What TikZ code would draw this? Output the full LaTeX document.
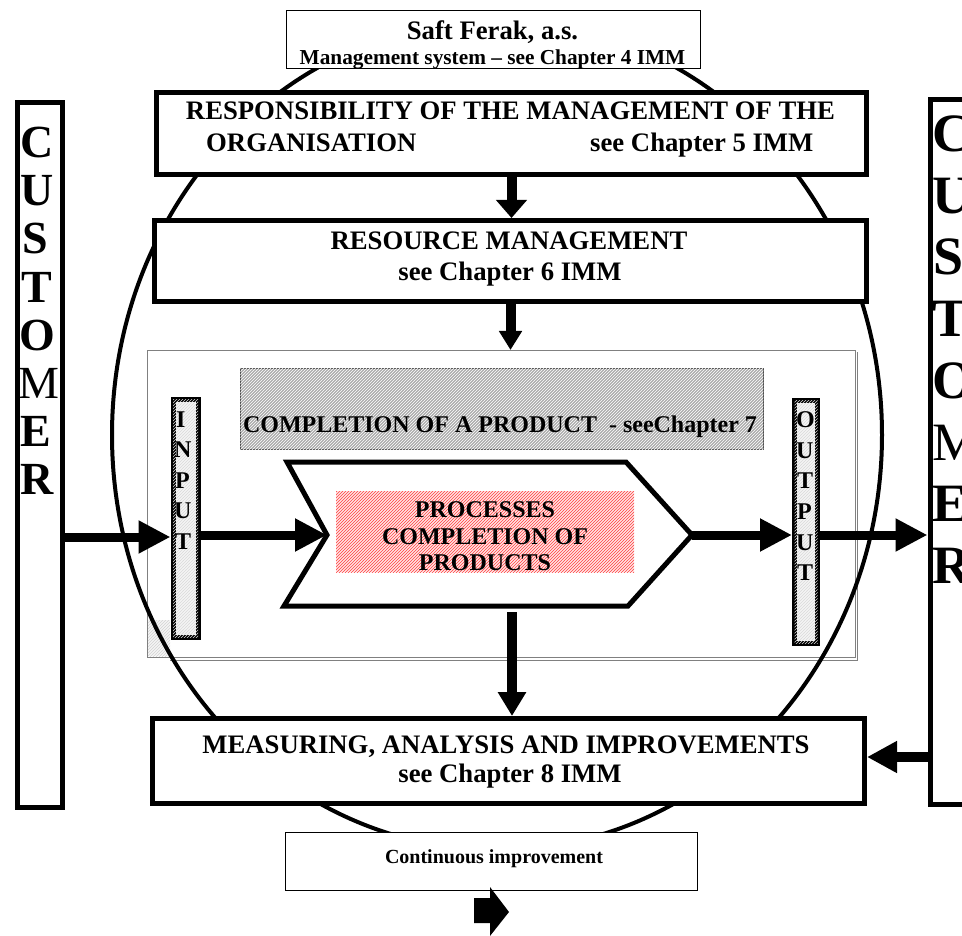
\documentclass[tikz,border=0pt]{standalone}
\usepackage{fontspec}
\setmainfont{Liberation Serif}
\usetikzlibrary{arrows.meta,patterns}
\begin{document}
\begin{tikzpicture}[x=1pt,y=-1pt,
  thickbox/.style={draw,line width=5pt,fill=white,inner sep=0pt,anchor=north west},
  thinbox/.style={draw,line width=0.9pt,fill=white,inner sep=0pt,anchor=north west},
  big/.style={font=\fontsize{26.7}{30}\selectfont\bfseries,inner sep=0pt,anchor=base},
  mid/.style={font=\fontsize{24}{28}\selectfont\bfseries,inner sep=0pt,anchor=base},
  small/.style={font=\fontsize{21.3}{24}\selectfont\bfseries,inner sep=0pt,anchor=base},
  tiny/.style={font=\fontsize{20}{24}\selectfont\bfseries,inner sep=0pt,anchor=base},
  letter/.style={font=\fontsize{24}{28}\selectfont\bfseries,inner sep=0pt,anchor=base west},
  custl/.style={font=\fontsize{46}{50}\selectfont\bfseries,inner sep=0pt,anchor=base west},
  custr/.style={font=\fontsize{54}{60}\selectfont\bfseries,inner sep=0pt,anchor=base west},
  flow/.style={line width=9pt,-{Triangle[length=32pt,width=31pt]}},
  down/.style={line width=10pt,-{Triangle[length=18pt,width=30pt]}},
  downs/.style={line width=10pt,-{Triangle[length=19pt,width=22pt]}},
  iobox/.style={draw,line width=5pt,fill=gray!8,postaction={pattern=north east lines,pattern color=gray!30},
      inner sep=0pt,anchor=north west},
]
\clip (0,0) rectangle (962,936);
% frame of product completion
\node[draw=gray,line width=0.8pt,fill=white,inner sep=0pt,anchor=north west,
      minimum width=708pt,minimum height=307pt] (frame) at (147,350) {};
\fill[gray!8,postaction={pattern=north east lines,pattern color=gray!35}] (148,620) rectangle (170,656);
\draw[gray,line width=0.8pt] (170,660) -- (857,660) -- (857,352);
% completion of a product banner
\node[draw=black!70,line width=0.8pt,fill=gray!65,postaction={pattern=north east lines,pattern color=white},
      inner sep=0pt,anchor=north west,minimum width=523pt,minimum height=81pt] (comp) at (240,368) {};
% input / output
\node[iobox,minimum width=25pt,minimum height=238pt] (input) at (170.5,397) {};
\node[iobox,minimum width=23pt,minimum height=243pt] (output) at (792,398) {};
% chevron
\coordinate (ctl) at (287,462);
\coordinate (ctr) at (626,462);
\coordinate (tip) at (692,535);
\coordinate (cbr) at (628,606);
\coordinate (cbl) at (284,606);
\coordinate (notch) at (327,535);
\draw[line width=5pt,fill=white,line join=miter] (ctl) -- (ctr) -- (tip) -- (cbr) -- (cbl) -- (notch) -- cycle;
\node[fill=red!10,postaction={pattern=north east lines,pattern color=red!75},
      inner sep=0pt,anchor=north west,minimum width=298pt,minimum height=81pt] (proc) at (336,491) {};
% ellipse
\draw[line width=4pt] (497,435) ellipse [x radius=385pt, y radius=415pt];
% boxes
\node[thinbox,minimum width=414pt,minimum height=58pt] (saft) at (286,10) {};
\node[thickbox,minimum width=710pt,minimum height=82pt] (resp) at (154,90) {};
\node[thickbox,minimum width=712pt,minimum height=81pt] (res) at (152,218) {};
\node[thickbox,minimum width=712pt,minimum height=85pt] (meas) at (150,716) {};
\node[thinbox,minimum width=412pt,minimum height=58pt] (cont) at (285,832) {};
\node[thickbox,minimum width=45pt,minimum height=705pt] (custL) at (14.5,100) {};
\node[thickbox,minimum width=70pt,minimum height=705pt] (custR) at (927.5,97) {};
% connectors
\coordinate (yin) at (0,537);
\coordinate (ym) at (0,757);
\coordinate (chevbot) at (512,612);
\draw[down] (resp.south) -- (resp.south |- res.north);
\draw[downs] (res.south) -- (res.south |- frame.north);
\draw[flow] (custL.east |- yin) -- (input.west |- yin);
\draw[flow] (input.east |- notch) -- (notch);
\draw[flow] (tip) -- (output.west |- tip);
\draw[flow] (output.east |- tip) -- (custR.west |- tip);
\draw[line width=10pt,-{Triangle[length=24pt,width=27pt]}] (chevbot) -- (chevbot |- meas.north);
\draw[line width=10pt,-{Triangle[length=30pt,width=30pt]}] (custR.west |- ym) -- (meas.east |- ym);
% continuous improvement arrow
\fill (474,898) -- (490,898) -- (490,887) -- (509,912) -- (490,936) -- (490,923) -- (474,923) -- cycle;
% texts
\node[big] (tsaft1) at (492.5,40) {Saft Ferak, a.s.};
\node[small] (tsaft2) at (492.5,65) {Management system -- see Chapter 4 IMM};
\draw[line width=0.9pt] (saft.south west) -- (saft.south east);
\node[big] (tresp1) at (510.5,120) {RESPONSIBILITY OF THE MANAGEMENT OF THE};
\node[big,anchor=base west] (tresp2) at (206,152) {ORGANISATION};
\node[big,anchor=base west] (tresp3) at (590,152) {see Chapter 5 IMM};
\node[big] (tres1) at (509,250) {RESOURCE MANAGEMENT};
\node[big] (tres2) at (510,281) {see Chapter 6 IMM};
\node[mid] (tcomp) at (500,432) {COMPLETION OF A PRODUCT\ \ - seeChapter 7};
\node[mid] (tproc1) at (485,517) {PROCESSES};
\node[mid] (tproc2) at (485,544) {COMPLETION OF};
\node[mid] (tproc3) at (485,570) {PRODUCTS};
\node[big] (tmeas1) at (506,753) {MEASURING, ANALYSIS AND IMPROVEMENTS};
\node[big] (tmeas2) at (510,782) {see Chapter 8 IMM};
\node[tiny] (tcont) at (494,863) {Continuous improvement};
% INPUT letters
\node[letter] (i1) at (176,427) {I};
\node[letter] (i2) at (174,457) {N};
\node[letter] (i3) at (175,488) {P};
\node[letter] (i4) at (174,518) {U};
\node[letter] (i5) at (175,549) {T};
% OUTPUT letters
\node[letter] (o1) at (796,427) {O};
\node[letter] (o2) at (796,458) {U};
\node[letter] (o3) at (797,488) {T};
\node[letter] (o4) at (797,519) {P};
\node[letter] (o5) at (796,550) {U};
\node[letter] (o6) at (797,580) {T};
% CUSTOMER left
\node[custl] (l1) at (20,158) {C};
\node[custl] (l2) at (20,206) {U};
\node[custl] (l3) at (22,254) {S};
\node[custl] (l4) at (21,302) {T};
\node[custl] (l5) at (19,350) {O};
\node[custl,font=\fontsize{46}{50}\selectfont] (l6) at (18,398) {M};
\node[custl] (l7) at (20,446) {E};
\node[custl] (l8) at (20,494) {R};
% CUSTOMER right
\node[custr] (r1) at (932,152) {C};
\node[custr] (r2) at (932,214) {U};
\node[custr] (r3) at (933,275) {S};
\node[custr] (r4) at (932,337) {T};
\node[custr] (r5) at (932,398) {O};
\node[custr,font=\fontsize{54}{60}\selectfont] (r6) at (932,460) {M};
\node[custr] (r7) at (932,521) {E};
\node[custr] (r8) at (932,583) {R};
\end{tikzpicture}
\end{document}
